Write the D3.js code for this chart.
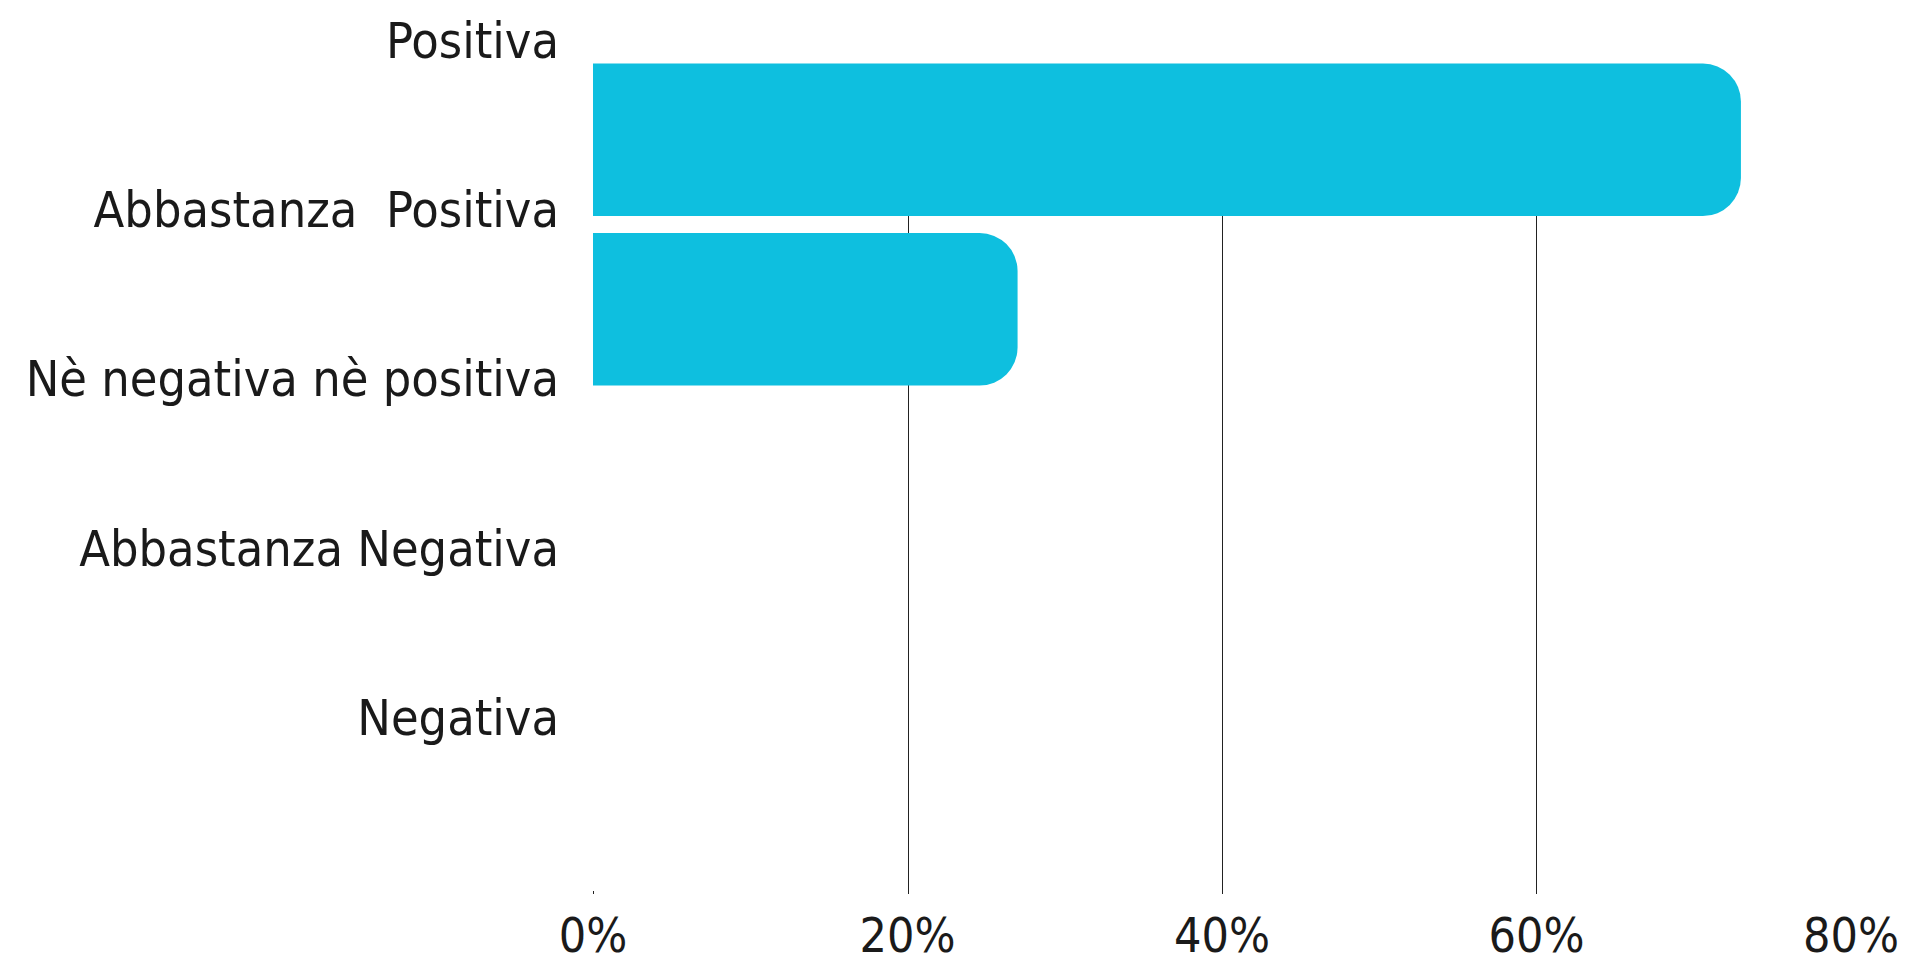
<!DOCTYPE html>
<html>
<head>
<meta charset="utf-8">
<script src="https://cdn.jsdelivr.net/npm/d3@7"></script>
<style>
  html, body { margin: 0; padding: 0; background: #ffffff; }
  svg { display: block; }
  .cat { font-family: "DejaVu Sans Condensed", "DejaVu Sans", sans-serif; font-size: 50px; fill: #1a1a1a; white-space: pre; }
  .tick-label { font-family: "DejaVu Sans Condensed", "DejaVu Sans", sans-serif; font-size: 48px; fill: #1a1a1a; }
</style>
</head>
<body>
<svg id="chart" width="1913" height="966"></svg>
<script>
// Survey answers, top to bottom
const categories = ["Positiva", "Abbastanza  Positiva", "Nè negativa nè positiva", "Abbastanza Negativa", "Negativa"];
// Share of answers for each category (fraction)
const values = [0.73, 0.27, 0, 0, 0];
// Horizontal axis ticks
const tickValues = [0, 0.2, 0.4, 0.6, 0.8];
const tickLabels = ["0%", "20%", "40%", "60%", "80%"];

const svg = d3.select("#chart");
const barColor = "#0ebfdf";
const radius = 38;

const x = d3.scaleLinear().domain([0, 0.8]).range([593, 1851]);
const y = d3.scaleBand().domain(categories).range([63.5, 894]).paddingInner(0.1).paddingOuter(0);

// vertical grid lines (20%, 40%, 60%) and a small mark at 0%
const grid = svg.append("g").attr("shape-rendering", "crispEdges");
grid.selectAll("line.grid")
  .data(tickValues.filter(v => v > 0 && v < 0.8))
  .join("line")
  .attr("class", "grid")
  .attr("x1", d => Math.round(x(d)) + 0.5).attr("x2", d => Math.round(x(d)) + 0.5)
  .attr("y1", y.range()[0]).attr("y2", y.range()[1])
  .attr("stroke", "#222222").attr("stroke-width", 1);
grid.append("line")
  .attr("x1", Math.round(x(0)) + 0.5).attr("x2", Math.round(x(0)) + 0.5)
  .attr("y1", y.range()[1] - 3).attr("y2", y.range()[1])
  .attr("stroke", "#222222").attr("stroke-width", 1);

// bars: square on the left, rounded on the right
function barPath(x0, x1, y0, h, r) {
  const w = x1 - x0;
  if (w <= 0) return "";
  const rr = Math.min(r, w, h / 2);
  return `M${x0},${y0}H${x1 - rr}A${rr},${rr} 0 0 1 ${x1},${y0 + rr}` +
         `V${y0 + h - rr}A${rr},${rr} 0 0 1 ${x1 - rr},${y0 + h}H${x0}Z`;
}
svg.append("g").selectAll("path")
  .data(categories.map((c, i) => ({ c, v: values[i] })).filter(d => d.v > 0))
  .join("path")
  .attr("d", d => barPath(x(0), x(d.v), y(d.c), y.bandwidth(), radius))
  .attr("fill", barColor);

// category labels, set at the top edge of each band
svg.append("g").selectAll("text")
  .data(categories)
  .join("text")
  .attr("class", "cat")
  .attr("x", 559)
  .attr("y", d => y(d) - 6)
  .attr("text-anchor", "end")
  .text(d => d);

// axis labels
svg.append("g").selectAll("text")
  .data(tickValues)
  .join("text")
  .attr("class", "tick-label")
  .attr("x", d => x(d))
  .attr("y", 952)
  .attr("text-anchor", "middle")
  .text((d, i) => tickLabels[i]);
</script>
</body>
</html>
